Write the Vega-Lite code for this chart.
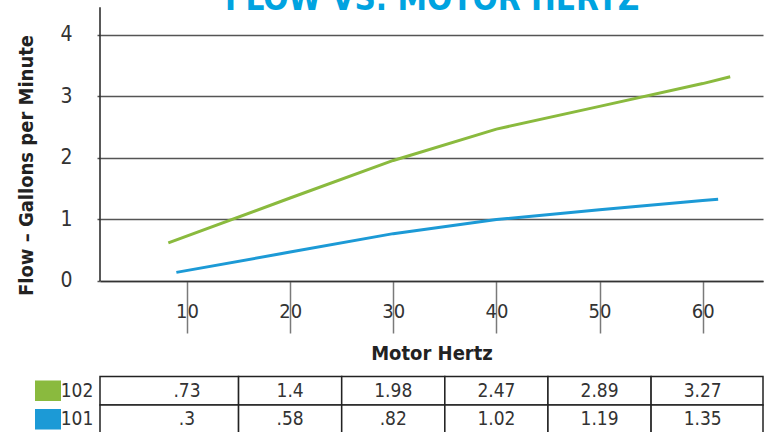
{
  "$schema": "https://vega.github.io/schema/vega-lite/v6.json",
  "width": 663,
  "height": 432,
  "autosize": "none",
  "padding": {"left": 100, "top": 0, "right": 9, "bottom": 0},
  "background": "white",
  "config": {"font": "Liberation Sans Narrow, DejaVu Sans Condensed, Roboto, sans-serif", "view": {"stroke": null}},
  "layer": [
    {
      "layer": [
        {
          "data": {"values": [
            {"series": "102", "hz": 8.19, "flow": 0.62},
            {"series": "102", "hz": 20, "flow": 1.35},
            {"series": "102", "hz": 30, "flow": 1.96},
            {"series": "102", "hz": 40, "flow": 2.47},
            {"series": "102", "hz": 50, "flow": 2.84},
            {"series": "102", "hz": 60, "flow": 3.21},
            {"series": "102", "hz": 62.67, "flow": 3.32},
            {"series": "101", "hz": 8.97, "flow": 0.14},
            {"series": "101", "hz": 20, "flow": 0.47},
            {"series": "101", "hz": 30, "flow": 0.77},
            {"series": "101", "hz": 40, "flow": 1.0},
            {"series": "101", "hz": 50, "flow": 1.16},
            {"series": "101", "hz": 60, "flow": 1.31},
            {"series": "101", "hz": 61.5, "flow": 1.33}
          ]},
          "mark": {"type": "line", "strokeWidth": 3},
          "encoding": {
            "x": {
              "field": "hz", "type": "quantitative",
              "scale": {"domain": [1.565, 65.85], "nice": false, "zero": false},
              "axis": {
                "values": [10, 20, 30, 40, 50, 60], "format": "d", "offset": -151, "grid": false,
                "tickSize": 52, "tickColor": "#7a7a7a", "tickWidth": 1.5,
                "labelPadding": -32, "labelFontSize": 20, "labelColor": "#333", "labelFlush": false,
                "domainColor": "#333", "domainWidth": 1.5,
                "title": "Motor Hertz", "titleFontSize": 20, "titleFontWeight": "bold", "titleColor": "#222",
                "titleBaseline": "alphabetic", "titleY": 78
              }
            },
            "y": {
              "field": "flow", "type": "quantitative",
              "scale": {"domain": [-2.4553, 4.5691], "nice": false, "zero": false},
              "axis": {
                "values": [0, 1, 2, 3, 4], "format": "d", "grid": true, "gridColor": "#555", "gridWidth": 1.5,
                "domain": false, "tickSize": 3, "tickColor": "#555", "tickWidth": 1.5,
                "labelPadding": 25, "labelFontSize": 21, "labelColor": "#333",
                "title": "Flow – Gallons per Minute", "titleFontSize": 20, "titleFontWeight": "bold", "titleColor": "#222",
                "titleX": -68, "titleY": 165, "titleBaseline": "alphabetic", "titleAlign": "center", "titleAngle": -90
              }
            },
            "color": {"field": "series", "type": "nominal", "scale": {"domain": ["102", "101"], "range": ["#8ABA3E", "#1C9AD6"]}, "legend": null}
          }
        },
        {
          "data": {"values": [{"label": "FLOW VS. MOTOR HERTZ"}]},
          "mark": {"type": "text", "fontSize": 33, "fontWeight": "bold", "color": "#00A3E0", "baseline": "alphabetic", "align": "center"},
          "encoding": {
            "text": {"field": "label"},
            "x": {"datum": 33.77, "type": "quantitative"},
            "y": {"datum": 4.4065, "type": "quantitative"}
          }
        },
        {
          "data": {"values": [{}]},
          "mark": {"type": "rule", "color": "#222", "strokeWidth": 1.5},
          "encoding": {
            "x": {"datum": 1.565, "type": "quantitative"},
            "y": {"datum": 4.45, "type": "quantitative"},
            "y2": {"datum": 0}
          }
        }
      ]
    },
    {
      "data": {"values": [
        {"series": "102", "hz": 10, "value": ".73"},
        {"series": "102", "hz": 20, "value": "1.4"},
        {"series": "102", "hz": 30, "value": "1.98"},
        {"series": "102", "hz": 40, "value": "2.47"},
        {"series": "102", "hz": 50, "value": "2.89"},
        {"series": "102", "hz": 60, "value": "3.27"},
        {"series": "101", "hz": 10, "value": ".3"},
        {"series": "101", "hz": 20, "value": ".58"},
        {"series": "101", "hz": 30, "value": ".82"},
        {"series": "101", "hz": 40, "value": "1.02"},
        {"series": "101", "hz": 50, "value": "1.19"},
        {"series": "101", "hz": 60, "value": "1.35"}
      ]},
      "encoding": {
        "y": {"field": "series", "type": "nominal", "scale": {"domain": ["102", "101"], "range": [376.5, 433.5], "paddingInner": 0, "paddingOuter": 0}, "axis": null}
      },
      "layer": [
        {
          "transform": [
            {"calculate": "datum.hz <= 10 ? 1.565 : datum.hz - 5", "as": "lo"},
            {"calculate": "datum.hz >= 60 ? 65.85 : datum.hz + 5", "as": "hi"}
          ],
          "mark": {"type": "rect", "fill": "white", "stroke": "#222", "strokeWidth": 1.5},
          "encoding": {
            "x": {"field": "lo", "type": "quantitative"},
            "x2": {"field": "hi"}
          }
        },
        {
          "mark": {"type": "text", "fontSize": 19, "color": "#333"},
          "encoding": {
            "x": {"field": "hz", "type": "quantitative"},
            "text": {"field": "value"}
          }
        },
        {
          "transform": [{"filter": "datum.hz == 10"}],
          "mark": {"type": "rect", "height": {"band": 0.72}},
          "encoding": {
            "x": {"datum": -4.74, "type": "quantitative"},
            "x2": {"datum": -2.218},
            "color": {"field": "series", "type": "nominal", "scale": {"domain": ["102", "101"], "range": ["#8ABA3E", "#1C9AD6"]}, "legend": null}
          }
        },
        {
          "transform": [{"filter": "datum.hz == 10"}],
          "mark": {"type": "text", "align": "right", "fontSize": 19, "color": "#333"},
          "encoding": {
            "x": {"datum": 0.915, "type": "quantitative"},
            "text": {"field": "series"}
          }
        }
      ]
    }
  ],
  "resolve": {"scale": {"y": "independent"}}
}
